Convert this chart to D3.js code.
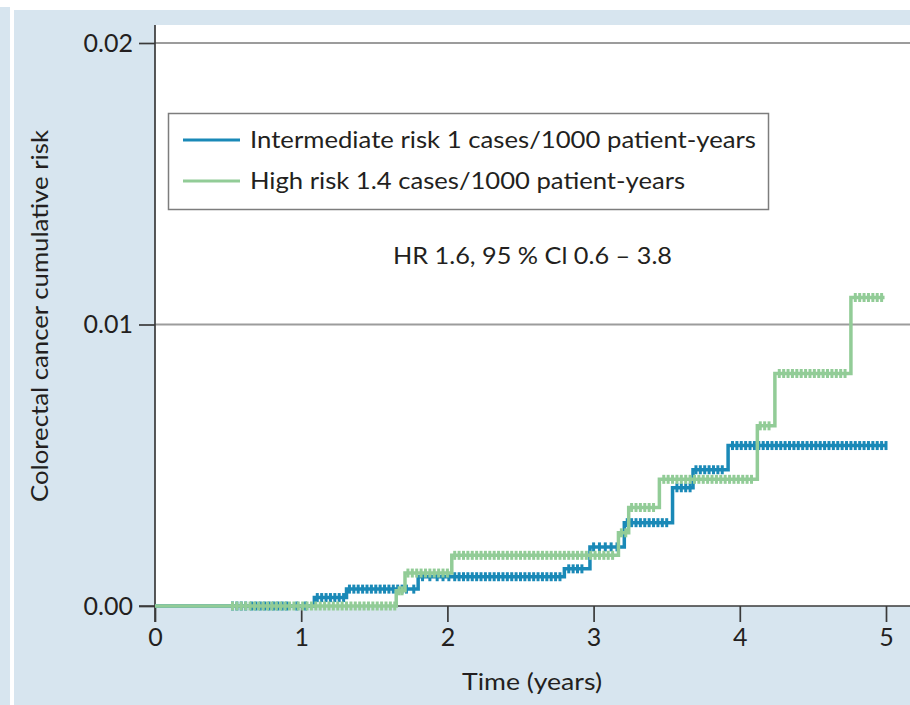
<!DOCTYPE html>
<html>
<head>
<meta charset="utf-8">
<script src="https://cdn.jsdelivr.net/npm/d3@7"></script>
<style>
  html, body { margin: 0; padding: 0; background: #ffffff; }
  svg { display: block; }
  text { font-family: Lato, "Open Sans", sans-serif; fill: #231f20; }
</style>
</head>
<body>
<svg id="chart" width="910" height="705"></svg>
<script>
// Kaplan–Meier style cumulative risk steps (time in years, cumulative risk)
const intermediateTimes = [0, 1.09, 1.31, 1.80, 2.80, 2.975, 3.21, 3.54, 3.68, 3.92, 5.0];
const intermediateRisk  = [0, 0.0003, 0.0006, 0.00104, 0.00132, 0.0021, 0.00296, 0.0042, 0.00484, 0.0057, 0.0057];

const highTimes = [0, 1.65, 1.71, 2.03, 3.17, 3.24, 3.45, 4.12, 4.24, 4.76, 4.99];
const highRisk  = [0, 0.00054, 0.00117, 0.0018, 0.0026, 0.0035, 0.0045, 0.0064, 0.00826, 0.01096, 0.01096];

// Censoring times
const intermediateCensor = [
  0.53,0.56,0.59,0.62, 0.66,0.69,0.72,0.75,0.78, 0.81,0.84,0.87,0.90, 0.97, 1.03,
  1.11,1.14,1.17,1.20,1.23,1.26,1.29,
  1.33,1.36,1.39,1.42,1.45,1.48,1.51,1.54,1.57,1.60,1.63,1.66,1.69,1.72,1.77,
  1.83,1.88,1.93,1.97,2.01,2.05,2.08,2.11,2.14,2.17,2.20,2.23,2.26,2.29,2.32,2.35,2.38,2.41,
  2.44,2.47,2.50,2.53,2.56,2.59,2.62,2.65,2.68,2.71,2.74,2.77,
  2.83,2.86,2.89,2.92,
  3.00,3.04,3.08,3.12,3.16,
  3.23,3.26,3.29,3.32,3.35,3.38,3.41,3.44,3.47,3.50,
  3.57,3.60,3.63,3.66,
  3.70,3.73,3.76,3.79,3.82,3.85,3.88,
  3.95,3.98,4.01,4.04,4.07,4.10,4.13,4.16,4.19,4.22,4.25,4.28,4.31,4.34,4.37,4.40,4.43,4.46,
  4.49,4.52,4.55,4.58,4.61,4.64,4.67,4.70,4.73,4.76,4.79,4.82,4.85,4.88,4.91,4.94,4.97,5.00
];
const highCensor = [
  0.53,0.56,0.59,0.62,0.65,0.68,0.71,0.74,0.77,0.80,0.83,0.86,0.89,0.92,0.95,0.98,1.01,1.04,
  1.07,1.10,1.13,1.16,1.19,1.22,1.25,1.28,1.31,1.34,1.37,1.40,1.43,1.46,1.49,1.52,1.55,1.58,1.61,1.64,
  1.67,1.69,
  1.73,1.76,1.79,1.82,1.85,1.88,1.91,1.94,1.97,2.00,
  2.05,2.08,2.11,2.14,2.17,2.20,2.23,2.26,2.29,2.32,2.35,2.38,2.41,2.44,2.47,2.50,2.53,2.56,
  2.59,2.62,2.65,2.68,2.71,2.74,2.77,2.80,2.83,2.86,2.89,2.92,2.95,2.98,3.01,3.04,3.07,3.10,3.13,
  3.19,3.22,
  3.26,3.29,3.32,3.35,3.38,3.41,
  3.48,3.51,3.54,3.57,3.60,3.63,3.66,3.69,3.72,3.75,3.78,3.81,3.84,3.87,3.90,3.93,3.96,3.99,4.02,4.05,4.08,
  4.14,4.17,4.20,
  4.27,4.30,4.33,4.36,4.39,4.42,4.45,4.48,4.51,4.54,4.57,4.60,4.63,4.66,4.69,4.72,
  4.79,4.82,4.85,4.88,4.91,4.94,4.97
];

const xTicks = [0, 1, 2, 3, 4, 5];
const yTicks = [0, 0.01, 0.02];

const seriesNames = [
  "Intermediate risk 1 cases/1000 patient-years",
  "High risk 1.4 cases/1000 patient-years"
];
const annotation = "HR 1.6, 95 % Cl 0.6 \u2013 3.8";
const xTitle = "Time (years)";
const yTitle = "Colorectal cancer cumulative risk";

const blue = "#1a89b7";
const green = "#92cc97";
const panelBg = "#d7e5ef";

const svg = d3.select("#chart");
const W = 910, H = 705;
const plot = { left: 155, top: 25, right: 910, bottom: 606 };

// panel background with a thin white frame on top and left
svg.append("rect").attr("x", 0).attr("y", 0).attr("width", W).attr("height", H).attr("fill", "#ffffff");
svg.append("rect").attr("x", 0).attr("y", 7).attr("width", 10).attr("height", H - 7).attr("fill", panelBg);
svg.append("rect").attr("x", 14).attr("y", 10).attr("width", W - 14).attr("height", H - 10).attr("fill", panelBg);
svg.append("rect").attr("x", plot.left).attr("y", plot.top)
  .attr("width", plot.right - plot.left).attr("height", plot.bottom - plot.top).attr("fill", "#ffffff");

const x = d3.scaleLinear().domain([0, 5]).range([155, 886]);
const y = d3.scaleLinear().domain([0, 0.02]).range([606, 43]);

// horizontal reference lines
svg.append("g").selectAll("line").data(yTicks.filter(d => d > 0)).join("line")
  .attr("x1", plot.left).attr("x2", plot.right)
  .attr("y1", d => y(d)).attr("y2", d => y(d))
  .attr("stroke", "#9c9c9c").attr("stroke-width", 2);

// axes
const xAxis = svg.append("g").attr("transform", `translate(0,${y(0)})`)
  .call(d3.axisBottom(x).tickValues(xTicks).tickFormat(d3.format("d")).tickSize(16).tickPadding(6).tickSizeOuter(0));
const yAxis = svg.append("g").attr("transform", `translate(${x(0)},0)`)
  .call(d3.axisLeft(y).tickValues(yTicks).tickFormat(d3.format(".2f")).tickSize(16).tickPadding(6).tickSizeOuter(0));

[xAxis, yAxis].forEach(g => {
  g.select(".domain").attr("stroke", "#3a3a3a").attr("stroke-width", 1.7);
  g.selectAll(".tick line").attr("stroke", "#3a3a3a").attr("stroke-width", 1.7);
  g.selectAll(".tick text").attr("font-size", 25).attr("font-family", "Lato, sans-serif").attr("fill", "#231f20");
});
// axis lines run past the outermost ticks
xAxis.select(".domain").attr("d", `M${plot.left - 16},0H${plot.right}`);
yAxis.select(".domain").attr("d", `M0,${plot.top}V${y(0) + 16}`);

// step curves
function stepData(times, risk) { return times.map((t, i) => ({ t, r: risk[i] })); }
function riskAt(times, risk, t) {
  let r = 0;
  for (let i = 0; i < times.length; i++) if (times[i] <= t) r = risk[i];
  return r;
}
const line = d3.line().x(d => x(d.t)).y(d => y(d.r)).curve(d3.curveStepAfter);

function drawSeries(times, risk, censor, color) {
  const g = svg.append("g");
  g.append("path").datum(stepData(times, risk))
    .attr("d", line).attr("fill", "none").attr("stroke", color).attr("stroke-width", 3.5);
  g.selectAll("line.censor").data(censor).join("line").attr("class", "censor")
    .attr("x1", d => x(d)).attr("x2", d => x(d))
    .attr("y1", d => y(riskAt(times, risk, d)) - 4.5).attr("y2", d => y(riskAt(times, risk, d)) + 4.5)
    .attr("stroke", color).attr("stroke-width", 3);
}
drawSeries(intermediateTimes, intermediateRisk, intermediateCensor, blue);
drawSeries(highTimes, highRisk, highCensor, green);

// legend
const legend = svg.append("g");
legend.append("rect").attr("x", 168.5).attr("y", 113.5).attr("width", 600).attr("height", 96)
  .attr("fill", "#ffffff").attr("stroke", "#7d7d7d").attr("stroke-width", 1.5);
const legendItems = [
  { name: seriesNames[0], color: blue, cy: 140, width: 506 },
  { name: seriesNames[1], color: green, cy: 181, width: 435 }
];
legendItems.forEach(it => {
  legend.append("line").attr("x1", 183).attr("x2", 240).attr("y1", it.cy).attr("y2", it.cy)
    .attr("stroke", it.color).attr("stroke-width", 3);
  legend.append("text").attr("x", 250).attr("y", it.cy + 8).attr("font-size", 23.5)
    .attr("textLength", it.width).attr("lengthAdjust", "spacingAndGlyphs").text(it.name);
});

svg.append("text").attr("x", 393).attr("y", 264).attr("font-size", 23.5)
  .attr("textLength", 279).attr("lengthAdjust", "spacingAndGlyphs").text(annotation);

svg.append("text").attr("x", 532).attr("y", 690).attr("font-size", 23.5).attr("text-anchor", "middle")
  .attr("textLength", 140).attr("lengthAdjust", "spacingAndGlyphs").text(xTitle);

svg.append("text").attr("transform", "translate(48,316) rotate(-90)")
  .attr("font-size", 23.5).attr("text-anchor", "middle")
  .attr("textLength", 372).attr("lengthAdjust", "spacingAndGlyphs").text(yTitle);
</script>
</body>
</html>
